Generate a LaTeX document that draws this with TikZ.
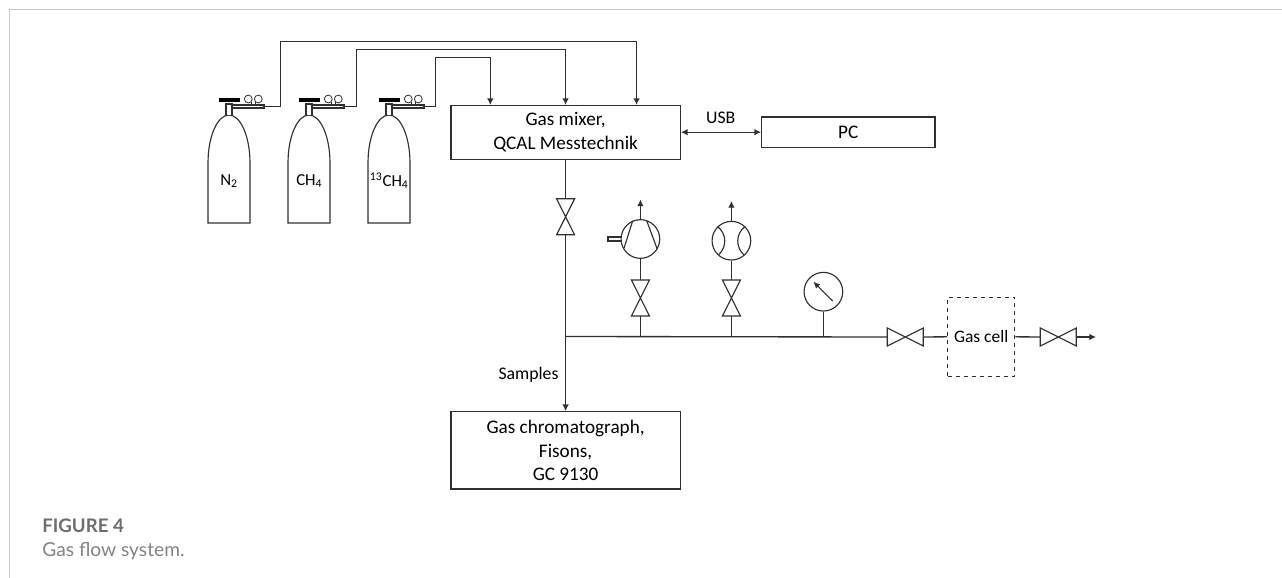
\documentclass[tikz,border=0pt]{standalone}
\usepackage{fontspec}
\setmainfont{Carlito}
\newfontfamily\capfont{Lato}
\usetikzlibrary{arrows.meta}
\definecolor{frameg}{HTML}{C9C9C9}
\definecolor{capg}{HTML}{6E6E6E}
\definecolor{ink}{HTML}{303030}
\tikzset{
  pipe/.style={draw=ink,line width=1pt},
  flow/.style={pipe,-{Latex[length=5pt,width=5pt]}},
  both/.style={pipe,{Latex[length=5pt,width=5pt]}-{Latex[length=5pt,width=5pt]}},
  thin part/.style={draw=ink,line width=0.85pt},
  boxn/.style={draw=ink,line width=0.95pt,fill=white,inner sep=0pt,align=center,font=\fontsize{14.4}{17.8}\selectfont},
  lab/.style={inner sep=0pt,align=center,font=\fontsize{13.3}{17.8}\selectfont,text=black},
  gaslab/.style={inner sep=0pt,align=center,font=\fontsize{12.6}{15}\selectfont,text=black},
  valve/.pic={
    \draw[thin part,fill=white,line join=miter] (-9,-18) -- (9,-18) -- (-9,18) -- (9,18) -- cycle;
    \coordinate (-top) at (0,-18);
    \coordinate (-bot) at (0,18);
  },
  bottle/.pic={
    \draw[thin part] (-21,108) -- (-21,48) arc[start angle=180,end angle=360,x radius=21,y radius=48] -- (21,108) -- cycle;
    \draw[thin part,fill=white] (-3,0) -- (-3,-11) -- (3,-11) -- (3,0);
    \fill[black] (-10.5,-17) rectangle (10.5,-13);
    \draw[thin part,fill=white] (3,-10) rectangle (35,-7);
    \draw[line width=0.6pt,draw=ink] (19.3,-16) circle[radius=3.9] (29.3,-16) circle[radius=3.9];
    \draw[line width=0.6pt,draw=ink] (22,-13) -- (22,-10) (26.5,-13) -- (26.5,-10);
    \coordinate (-out) at (35,-8.5);
  },
  every node/.append style={text=black}
}
\begin{document}
\begin{tikzpicture}[x=0.75pt,y=-0.75pt]
\useasboundingbox (0,0) rectangle (1282,578);
\fill[white] (0,0) rectangle (1282,578);
\draw[frameg,line width=1.1pt] (9.5,578) -- (9.5,9.5) -- (1282,9.5);

% boxes
\node[boxn,minimum width=172pt,minimum height=40.5pt] (mixer) at (565.6,132.2) {Gas mixer,\\QCAL Messtechnik};
\node[boxn,minimum width=130pt,minimum height=23pt] (pc) at (848.3,132.2) {PC};
\node[boxn,minimum width=172pt,minimum height=58pt] (gc) at (565.6,450.4) {Gas chromatograph,\\Fisons,\\GC 9130};
\node[boxn,dashed,font=\fontsize{13.1}{17}\selectfont,minimum width=50.3pt,minimum height=59.2pt] (cell) at (981.2,336.8) {Gas cell};

% cylinders
\pic (c1) at (229,115) {bottle};
\pic (c2) at (309,115) {bottle};
\pic (c3) at (389,115) {bottle};
\node[gaslab] (n2) at (229,181) {N\textsubscript{2}};
\node[gaslab] (ch4) at (309.3,181) {CH\textsubscript{4}};
\node[gaslab] (c13) at (389.3,181) {\textsuperscript{13}CH\textsubscript{4}};

% mixer inlets
\coordinate (m1) at (636.6,105);
\coordinate (m2) at (565.6,105);
\coordinate (m3) at (490.3,105);
\coordinate (r1) at (280.4,41.6);
\coordinate (r2) at (356.6,49.5);
\coordinate (r3) at (435.6,57.6);
\draw[flow] (c1-out) -| (r1) -| (m1);
\draw[flow] (c2-out) -| (r2) -| (m2);
\draw[flow] (c3-out) -| (r3) -| (m3);

% USB
\draw[both] (mixer.east |- pc.west) -- (pc.west);
\node[lab] (usb) at (720.7,118) {USB};

% valves
\pic (v1) at (565.6,216.8) {valve};
\pic (v2) at (640.4,298) {valve};
\pic (v3) at (731.4,298) {valve};
\pic[rotate=90] (v4) at (905.3,337) {valve};
\pic[rotate=90] (v5) at (1058.3,337) {valve};

% junctions on the main line
\coordinate (j0) at (565.6,336.5);
\coordinate (j1) at (640.4,336.5);
\coordinate (j2) at (731.4,336.5);
\coordinate (j3) at (823.4,336.5);

\draw[pipe] (mixer.south) -- (v1-top);
\draw[flow] (v1-bot) -- (gc.north);
\node[lab] (samples) at (528.5,375) {Samples};
\draw[pipe] (j0) -- (v4-top);
\draw[pipe] (j1) -- (v2-bot);
\draw[pipe] (j2) -- (v3-bot);

% pump
\node[draw=ink,line width=0.85pt,circle,minimum size=29pt,inner sep=0pt] (pump) at (640.4,239) {};
\draw[pipe] (v2-top) -- (pump.south);
\coordinate (pumpout) at (640.4,199.5);
\draw[flow] (pump.north) -- (pumpout);
\draw[thin part] (632.7,220.7) -- (624,248.3) (646.7,220.7) -- (657.3,249.3);
\draw[thin part] (620.7,237) -- (608,237) -- (608,241) -- (620.7,241);

% flow meter
\node[draw=ink,line width=0.85pt,circle,minimum size=29pt,inner sep=0pt] (meter) at (731.4,240.7) {};
\draw[pipe] (v3-top) -- (meter.south);
\coordinate (meterout) at (731.4,201);
\draw[flow] (meter.north) -- (meterout);
\draw[thin part] (717.5,226.5) .. controls (727,234) and (727,247) .. (718.5,255);
\draw[thin part] (745,226.5) .. controls (735.5,234) and (735.5,247) .. (744,255);

% pressure gauge
\node[draw=ink,line width=0.85pt,circle,minimum size=29pt,inner sep=0pt] (gauge) at (823.4,291.7) {};
\draw[pipe] (gauge.south) -- (j3);
\coordinate (needlea) at (832.7,301);
\coordinate (needleb) at (813.3,281.7);
\draw[thin part,-{Latex[length=5pt,width=4.5pt]}] (needlea) -- (needleb);

% to and through the gas cell
\draw[pipe] (v4-bot) -- (cell.west);
\draw[pipe] (cell.east) -- (v5-top);
\coordinate (outlet) at (1096,337);
\draw[flow] (v5-bot) -- (outlet);

% caption
\node[anchor=base west,inner sep=0pt,text=capg,font=\capfont\bfseries\fontsize{14}{16}\selectfont] (figl) at (42,532) {FIGURE 4};
\node[anchor=base west,inner sep=0pt,text=capg!85,font=\capfont\fontsize{14.4}{16}\selectfont] (figc) at (42,556) {Gas flow system.};
\end{tikzpicture}
\end{document}
